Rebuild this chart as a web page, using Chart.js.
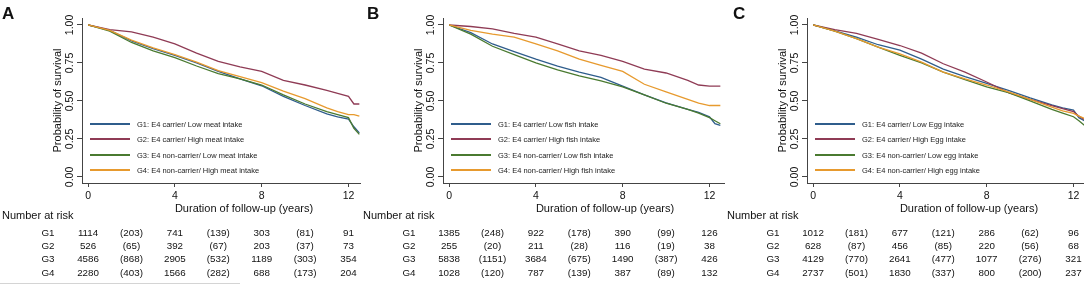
<!DOCTYPE html>
<html>
<head>
<meta charset="utf-8">
<script src="https://cdn.jsdelivr.net/npm/chart.js@4.4.0/dist/chart.umd.min.js"></script>
<style>
  body { margin: 0; background: #fff; width: 1084px; height: 296px; overflow: hidden; position: relative;
         font-family: 'Liberation Sans', Arial, sans-serif; color: #111; }
  .panel { position: absolute; top: 0; height: 296px; overflow: hidden; }
  .panel canvas { position: absolute; left: 0; top: 0; }
  .letter { position: absolute; top: 5px; font-weight: bold; font-size: 17px; line-height: 17px; }
  .leg-line { position: absolute; height: 0; border-top: 2px solid; width: 40px; }
  .leg-txt { position: absolute; font-size: 7.5px; white-space: nowrap; color: #222; transform: translateY(-50%); }
  .risk { position: absolute; font-size: 9.8px; white-space: nowrap; transform: translate(-50%, -50%); }
  .risk-head { position: absolute; font-size: 11px; white-space: nowrap; transform: translateY(-50%); }
  .rule { position: absolute; height: 0; border-top: 1px solid #d4d4d4; }
</style>
</head>
<body>
<div class="panel" id="p_meat" style="left:0;width:361px"><canvas id="ch_meat" width="410" height="222"></canvas><div class="letter" style="left:2px">A</div></div>
<div class="panel" id="p_fish" style="left:361px;width:364px"><canvas id="ch_fish" width="410" height="222"></canvas><div class="letter" style="left:6px">B</div></div>
<div class="panel" id="p_egg" style="left:725px;width:359px"><canvas id="ch_egg" width="410" height="222"></canvas><div class="letter" style="left:8px">C</div></div>
<script>
/* survival curves (years of follow-up) */
const years = [0, 1, 2, 3, 4, 5, 6, 7, 8, 9, 10, 11, 11.5, 12, 12.25, 12.5];

const meatG1 = [1.0, 0.965, 0.895, 0.845, 0.80, 0.75, 0.695, 0.645, 0.60, 0.53, 0.47, 0.415, 0.395, 0.38, 0.33, 0.29];
const meatG2 = [1.0, 0.97, 0.955, 0.92, 0.875, 0.815, 0.76, 0.725, 0.695, 0.635, 0.605, 0.57, 0.55, 0.53, 0.48, 0.48];
const meatG3 = [1.0, 0.96, 0.885, 0.83, 0.785, 0.73, 0.68, 0.645, 0.605, 0.54, 0.48, 0.43, 0.41, 0.39, 0.32, 0.28];
const meatG4 = [1.0, 0.965, 0.90, 0.85, 0.805, 0.755, 0.70, 0.66, 0.62, 0.565, 0.515, 0.455, 0.43, 0.41, 0.41, 0.40];

const fishG1 = [1.0, 0.95, 0.875, 0.825, 0.775, 0.73, 0.69, 0.655, 0.597, 0.54, 0.487, 0.445, 0.425, 0.395, 0.35, 0.34];
const fishG2 = [1.0, 0.99, 0.975, 0.945, 0.92, 0.875, 0.83, 0.80, 0.76, 0.71, 0.684, 0.635, 0.605, 0.597, 0.597, 0.597];
const fishG3 = [1.0, 0.94, 0.86, 0.805, 0.75, 0.705, 0.665, 0.632, 0.593, 0.54, 0.485, 0.445, 0.42, 0.39, 0.37, 0.35];
const fishG4 = [1.0, 0.965, 0.94, 0.92, 0.875, 0.83, 0.775, 0.735, 0.695, 0.61, 0.56, 0.51, 0.485, 0.47, 0.47, 0.47];

const eggG1 = [1.0, 0.962, 0.92, 0.87, 0.835, 0.775, 0.71, 0.66, 0.615, 0.57, 0.52, 0.475, 0.455, 0.44, 0.39, 0.37];
const eggG2 = [1.0, 0.97, 0.945, 0.905, 0.865, 0.815, 0.745, 0.69, 0.625, 0.555, 0.51, 0.47, 0.45, 0.43, 0.40, 0.378];
const eggG3 = [1.0, 0.96, 0.91, 0.855, 0.80, 0.75, 0.69, 0.64, 0.593, 0.555, 0.50, 0.445, 0.42, 0.396, 0.37, 0.34];
const eggG4 = [1.0, 0.96, 0.91, 0.855, 0.81, 0.755, 0.69, 0.645, 0.605, 0.56, 0.51, 0.46, 0.435, 0.418, 0.40, 0.385];

const meatLabels = ['G1: E4 carrier/ Low meat intake', 'G2: E4 carrier/ High meat intake',
                    'G3: E4 non-carrier/ Low meat intake', 'G4: E4 non-carrier/ High meat intake'];
const fishLabels = ['G1: E4 carrier/ Low fish intake', 'G2: E4 carrier/ High fish intake',
                    'G3: E4 non-carrier/ Low fish intake', 'G4: E4 non-carrier/ High fish intake'];
const eggLabels  = ['G1: E4 carrier/ Low Egg intake', 'G2: E4 carrier/ High Egg intake',
                    'G3: E4 non-carrier/ Low egg intake', 'G4: E4 non-carrier/ High egg intake'];

/* number at risk (censored in brackets) */
const riskYears = [0, 2, 4, 6, 8, 10, 12];
const riskGroups = ['G1', 'G2', 'G3', 'G4'];
const meatRisk = [
  ['1114', '(203)', '741', '(139)', '303', '(81)', '91'],
  ['526', '(65)', '392', '(67)', '203', '(37)', '73'],
  ['4586', '(868)', '2905', '(532)', '1189', '(303)', '354'],
  ['2280', '(403)', '1566', '(282)', '688', '(173)', '204']
];
const fishRisk = [
  ['1385', '(248)', '922', '(178)', '390', '(99)', '126'],
  ['255', '(20)', '211', '(28)', '116', '(19)', '38'],
  ['5838', '(1151)', '3684', '(675)', '1490', '(387)', '426'],
  ['1028', '(120)', '787', '(139)', '387', '(89)', '132']
];
const eggRisk = [
  ['1012', '(181)', '677', '(121)', '286', '(62)', '96'],
  ['628', '(87)', '456', '(85)', '220', '(56)', '68'],
  ['4129', '(770)', '2641', '(477)', '1077', '(276)', '321'],
  ['2737', '(501)', '1830', '(337)', '800', '(200)', '237']
];

const xTicks = [0, 4, 8, 12];
const yTicks = [0, 0.25, 0.5, 0.75, 1];
const groupColors = ['#2f5d8c', '#8f3b55', '#4a7a30', '#e79a2e'];
const FONT = "'Liberation Sans', Arial, sans-serif";
const AXIS = '#444';

function el(id) { return document.getElementById(id); }

Chart.defaults.font.family = FONT;

// y tick labels are rotated (Stata style), draw them along the axis
const rotatedYLabels = {
  id: 'rotatedYLabels',
  afterDraw(chart) {
    const { ctx, chartArea, scales: { y } } = chart;
    ctx.save();
    ctx.fillStyle = '#111';
    ctx.font = '10.5px ' + FONT;
    ctx.textAlign = 'center';
    ctx.textBaseline = 'middle';
    yTicks.forEach(v => {
      ctx.save();
      ctx.translate(chartArea.left - 12, y.getPixelForValue(v));
      ctx.rotate(-Math.PI / 2);
      ctx.fillText(v.toFixed(2), 0, 0);
      ctx.restore();
    });
    ctx.restore();
  }
};

function drawPanel(key, series, labels, risk) {
  const canvas = el('ch_' + key);
  const chart = new Chart(canvas.getContext('2d'), {
    type: 'line',
    data: {
      datasets: series.map((s, i) => ({
        label: labels[i],
        data: years.map((t, j) => ({ x: t, y: s[j] })),
        borderColor: groupColors[i],
        backgroundColor: 'transparent',
        borderWidth: 1.3,
        pointRadius: 0,
        tension: 0,
        fill: false,
        order: 4 - i
      }))
    },
    options: {
      responsive: false,
      animation: false,
      events: [],
      layout: { padding: { left: 0, right: 4, top: 18, bottom: 0 } },
      plugins: { legend: { display: false }, tooltip: { enabled: false } },
      scales: {
        x: {
          type: 'linear', min: -0.28, max: 14.65,
          afterBuildTicks: s => { s.ticks = xTicks.map(v => ({ value: v })); },
          afterFit: s => { s.height = 39; },
          grid: { drawOnChartArea: false, drawTicks: true, tickLength: 4, color: AXIS },
          border: { display: true, color: AXIS, width: 1 },
          ticks: { color: '#111', font: { size: 10.5 }, padding: 3, maxRotation: 0, autoSkip: false },
          title: { display: true, text: 'Duration of follow-up (years)', color: '#111',
                   font: { size: 11 }, padding: { top: 0, bottom: 6 } }
        },
        y: {
          type: 'linear', min: -0.04, max: 1.046,
          afterBuildTicks: s => { s.ticks = yTicks.map(v => ({ value: v })); },
          afterFit: s => { s.width = 82; },
          grid: { drawOnChartArea: false, drawTicks: true, tickLength: 5, color: AXIS },
          border: { display: true, color: AXIS, width: 1 },
          ticks: { display: false },
          title: { display: true, text: 'Probability of survival', color: '#111',
                   font: { size: 11 }, padding: { top: 51, bottom: 0 } }
        }
      }
    },
    plugins: [rotatedYLabels]
  });

  const panel = el('p_' + key);
  const ca = chart.chartArea;
  const xs = chart.scales.x;

  // legend, inside the plot region
  labels.forEach((lab, i) => {
    const yy = 124 + i * 15.3;
    const ln = document.createElement('div');
    ln.className = 'leg-line';
    ln.style.left = (ca.left + 8) + 'px';
    ln.style.top = (yy - 1) + 'px';
    ln.style.borderColor = groupColors[i];
    panel.appendChild(ln);
    const tx = document.createElement('div');
    tx.className = 'leg-txt';
    tx.style.left = (ca.left + 55) + 'px';
    tx.style.top = yy + 'px';
    tx.textContent = lab;
    panel.appendChild(tx);
  });

  // number at risk table
  const head = document.createElement('div');
  head.className = 'risk-head';
  head.style.left = (ca.left - 80) + 'px';
  head.style.top = '215px';
  head.textContent = 'Number at risk';
  panel.appendChild(head);

  riskGroups.forEach((g, r) => {
    const yy = 231.5 + r * 13.4;
    const gl = document.createElement('div');
    gl.className = 'risk';
    gl.style.left = (ca.left - 34) + 'px';
    gl.style.top = yy + 'px';
    gl.textContent = g;
    panel.appendChild(gl);
    riskYears.forEach((t, c) => {
      const d = document.createElement('div');
      d.className = 'risk';
      d.style.left = xs.getPixelForValue(t) + 'px';
      d.style.top = yy + 'px';
      d.textContent = risk[r][c];
      panel.appendChild(d);
    });
  });
  return chart;
}

drawPanel('meat', [meatG1, meatG2, meatG3, meatG4], meatLabels, meatRisk);
drawPanel('fish', [fishG1, fishG2, fishG3, fishG4], fishLabels, fishRisk);
drawPanel('egg', [eggG1, eggG2, eggG3, eggG4], eggLabels, eggRisk);

// faint rule under panel A table
const rule = document.createElement('div');
rule.className = 'rule';
rule.style.left = '0px'; rule.style.top = '283px'; rule.style.width = '240px';
el('p_meat').appendChild(rule);
</script>
</body>
</html>
